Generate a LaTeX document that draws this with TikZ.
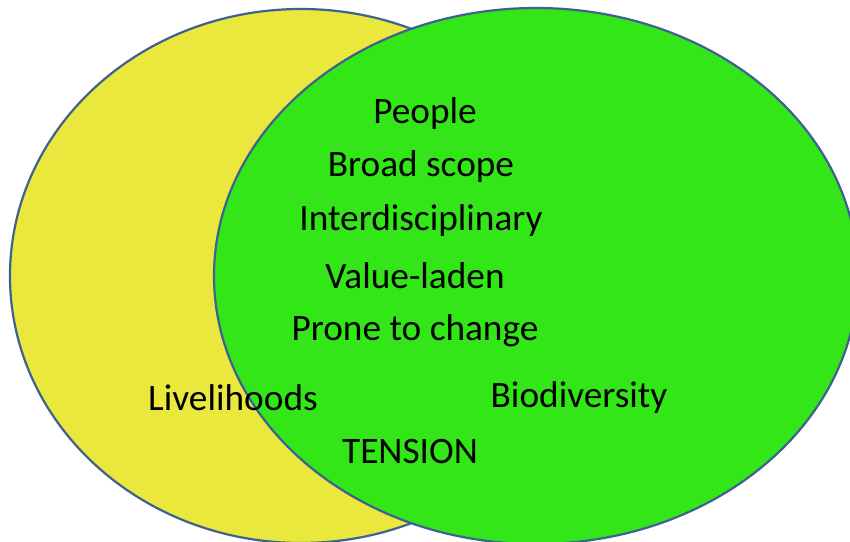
\documentclass[tikz,border=0pt]{standalone}
\usepackage{fontspec}
\setmainfont{Carlito}
\usetikzlibrary{shapes.geometric}
\definecolor{sideYellow}{HTML}{EAE83C}
\definecolor{sideGreen}{HTML}{33E618}
\definecolor{rimBlue}{HTML}{3E6192}
\def\labelFont{\fontsize{37.3}{42}\selectfont}
\tikzset{
  circleset/.style = {ellipse, draw=rimBlue, line width=2.2pt, inner sep=0},
  term/.style      = {font=\labelFont, inner sep=0, anchor=center},
}
\begin{document}
\begin{tikzpicture}[x=1pt, y=-1pt]
  \useasboundingbox[fill=white] (0,0) rectangle (850,541);

  % two overlapping sets
  \node[circleset, fill=sideYellow, minimum width=582pt, minimum height=534pt] (Livelihood) at (301,276) {};
  \node[circleset, fill=sideGreen, minimum width=644pt, minimum height=536pt] (Biodiv) at (536,276) {};

  % shared traits
  \node[term] (People)  at (425,114) {People};
  \node[term] (Broad)   at (421,167) {Broad scope};
  \node[term] (Inter)   at (421,221) {Interdisciplinary};
  \node[term] (Value)   at (415,276) {Value-laden};
  \node[term] (Prone)   at (415,331) {Prone to change};

  % set labels
  \node[term] (LivLabel) at (233,398) {Livelihoods};
  \node[term] (BioLabel) at (579,398) {Biodiversity};
  \node[term] (Tension)  at (410,452) {TENSION};
\end{tikzpicture}
\end{document}
